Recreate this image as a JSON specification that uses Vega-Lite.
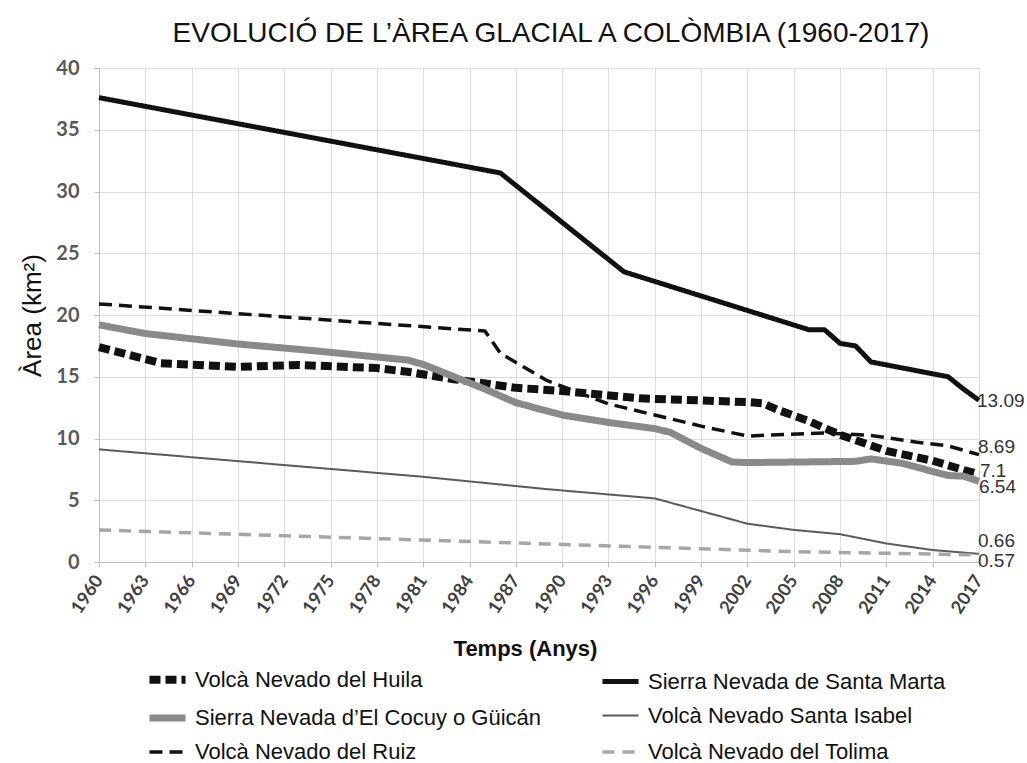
{
  "$schema": "https://vega.github.io/schema/vega-lite/v6.json",
  "width": 880,
  "height": 494,
  "autosize": {"type": "none"},
  "padding": {"left": 99, "top": 68, "right": 48, "bottom": 201},
  "background": "white",
  "title": {"text": "EVOLUCIÓ DE L’ÀREA GLACIAL A COLÒMBIA (1960-2017)", "font": "Liberation Sans", "fontSize": 28, "fontWeight": "normal", "color": "#111111", "offset": 10, "dx": 12},
  "config": {"view": {"stroke": null}},
  "data": {"values": [
    {"s": "Volcà Nevado del Huila", "year": 1960, "area": 17.4},
    {"s": "Volcà Nevado del Huila", "year": 1964, "area": 16.1},
    {"s": "Volcà Nevado del Huila", "year": 1969, "area": 15.8},
    {"s": "Volcà Nevado del Huila", "year": 1973, "area": 15.95},
    {"s": "Volcà Nevado del Huila", "year": 1978, "area": 15.7},
    {"s": "Volcà Nevado del Huila", "year": 1980, "area": 15.4},
    {"s": "Volcà Nevado del Huila", "year": 1983, "area": 14.8},
    {"s": "Volcà Nevado del Huila", "year": 1987, "area": 14.1},
    {"s": "Volcà Nevado del Huila", "year": 1990, "area": 13.85},
    {"s": "Volcà Nevado del Huila", "year": 1995, "area": 13.25},
    {"s": "Volcà Nevado del Huila", "year": 2002, "area": 12.95},
    {"s": "Volcà Nevado del Huila", "year": 2003, "area": 12.85},
    {"s": "Volcà Nevado del Huila", "year": 2004, "area": 12.3},
    {"s": "Volcà Nevado del Huila", "year": 2006, "area": 11.4},
    {"s": "Volcà Nevado del Huila", "year": 2008, "area": 10.3},
    {"s": "Volcà Nevado del Huila", "year": 2011, "area": 9.0},
    {"s": "Volcà Nevado del Huila", "year": 2014, "area": 8.2},
    {"s": "Volcà Nevado del Huila", "year": 2016, "area": 7.45},
    {"s": "Volcà Nevado del Huila", "year": 2017, "area": 7.1},
    {"s": "Sierra Nevada de Santa Marta", "year": 1960, "area": 37.6},
    {"s": "Sierra Nevada de Santa Marta", "year": 1986, "area": 31.5},
    {"s": "Sierra Nevada de Santa Marta", "year": 1994, "area": 23.5},
    {"s": "Sierra Nevada de Santa Marta", "year": 2006, "area": 18.8},
    {"s": "Sierra Nevada de Santa Marta", "year": 2007, "area": 18.8},
    {"s": "Sierra Nevada de Santa Marta", "year": 2008, "area": 17.7},
    {"s": "Sierra Nevada de Santa Marta", "year": 2009, "area": 17.5},
    {"s": "Sierra Nevada de Santa Marta", "year": 2010, "area": 16.2},
    {"s": "Sierra Nevada de Santa Marta", "year": 2015, "area": 15.0},
    {"s": "Sierra Nevada de Santa Marta", "year": 2016, "area": 14.0},
    {"s": "Sierra Nevada de Santa Marta", "year": 2017, "area": 13.09},
    {"s": "Sierra Nevada d’El Cocuy o Güicán", "year": 1960, "area": 19.2},
    {"s": "Sierra Nevada d’El Cocuy o Güicán", "year": 1963, "area": 18.5},
    {"s": "Sierra Nevada d’El Cocuy o Güicán", "year": 1969, "area": 17.65},
    {"s": "Sierra Nevada d’El Cocuy o Güicán", "year": 1974, "area": 17.1},
    {"s": "Sierra Nevada d’El Cocuy o Güicán", "year": 1980, "area": 16.35},
    {"s": "Sierra Nevada d’El Cocuy o Güicán", "year": 1981, "area": 16.0},
    {"s": "Sierra Nevada d’El Cocuy o Güicán", "year": 1985, "area": 14.0},
    {"s": "Sierra Nevada d’El Cocuy o Güicán", "year": 1987, "area": 12.9},
    {"s": "Sierra Nevada d’El Cocuy o Güicán", "year": 1990, "area": 11.9},
    {"s": "Sierra Nevada d’El Cocuy o Güicán", "year": 1993, "area": 11.3},
    {"s": "Sierra Nevada d’El Cocuy o Güicán", "year": 1996, "area": 10.8},
    {"s": "Sierra Nevada d’El Cocuy o Güicán", "year": 1997, "area": 10.5},
    {"s": "Sierra Nevada d’El Cocuy o Güicán", "year": 1999, "area": 9.2},
    {"s": "Sierra Nevada d’El Cocuy o Güicán", "year": 2001, "area": 8.1},
    {"s": "Sierra Nevada d’El Cocuy o Güicán", "year": 2002, "area": 8.05},
    {"s": "Sierra Nevada d’El Cocuy o Güicán", "year": 2009, "area": 8.15},
    {"s": "Sierra Nevada d’El Cocuy o Güicán", "year": 2010, "area": 8.35},
    {"s": "Sierra Nevada d’El Cocuy o Güicán", "year": 2012, "area": 8.0},
    {"s": "Sierra Nevada d’El Cocuy o Güicán", "year": 2015, "area": 7.0},
    {"s": "Sierra Nevada d’El Cocuy o Güicán", "year": 2016, "area": 6.95},
    {"s": "Sierra Nevada d’El Cocuy o Güicán", "year": 2017, "area": 6.54},
    {"s": "Volcà Nevado Santa Isabel", "year": 1960, "area": 9.12},
    {"s": "Volcà Nevado Santa Isabel", "year": 1972, "area": 7.85},
    {"s": "Volcà Nevado Santa Isabel", "year": 1981, "area": 6.9},
    {"s": "Volcà Nevado Santa Isabel", "year": 1989, "area": 5.9},
    {"s": "Volcà Nevado Santa Isabel", "year": 1996, "area": 5.15},
    {"s": "Volcà Nevado Santa Isabel", "year": 2002, "area": 3.1},
    {"s": "Volcà Nevado Santa Isabel", "year": 2005, "area": 2.6},
    {"s": "Volcà Nevado Santa Isabel", "year": 2008, "area": 2.25},
    {"s": "Volcà Nevado Santa Isabel", "year": 2011, "area": 1.5},
    {"s": "Volcà Nevado Santa Isabel", "year": 2014, "area": 0.97},
    {"s": "Volcà Nevado Santa Isabel", "year": 2017, "area": 0.66},
    {"s": "Volcà Nevado del Ruiz", "year": 1960, "area": 20.9},
    {"s": "Volcà Nevado del Ruiz", "year": 1985, "area": 18.7},
    {"s": "Volcà Nevado del Ruiz", "year": 1986, "area": 16.9},
    {"s": "Volcà Nevado del Ruiz", "year": 1989, "area": 14.7},
    {"s": "Volcà Nevado del Ruiz", "year": 1993, "area": 12.8},
    {"s": "Volcà Nevado del Ruiz", "year": 1996, "area": 11.9},
    {"s": "Volcà Nevado del Ruiz", "year": 1999, "area": 11.0},
    {"s": "Volcà Nevado del Ruiz", "year": 2002, "area": 10.2},
    {"s": "Volcà Nevado del Ruiz", "year": 2007, "area": 10.45},
    {"s": "Volcà Nevado del Ruiz", "year": 2010, "area": 10.25},
    {"s": "Volcà Nevado del Ruiz", "year": 2013, "area": 9.7},
    {"s": "Volcà Nevado del Ruiz", "year": 2015, "area": 9.4},
    {"s": "Volcà Nevado del Ruiz", "year": 2017, "area": 8.69},
    {"s": "Volcà Nevado del Tolima", "year": 1960, "area": 2.6},
    {"s": "Volcà Nevado del Tolima", "year": 1989, "area": 1.46},
    {"s": "Volcà Nevado del Tolima", "year": 2005, "area": 0.84},
    {"s": "Volcà Nevado del Tolima", "year": 2017, "area": 0.57}
  ]},
  "layer": [
    {
      "mark": {"type": "line", "strokeCap": "butt", "strokeJoin": "round"},
      "encoding": {
        "x": {"field": "year", "type": "quantitative",
          "scale": {"domain": [1960, 2017], "nice": false, "zero": false},
          "axis": {"values": [1960,1963,1966,1969,1972,1975,1978,1981,1984,1987,1990,1993,1996,1999,2002,2005,2008,2011,2014,2017],
            "format": "d", "labelAngle": -56, "labelFont": "Lato", "labelFontSize": 18, "labelFontWeight": "bold", "labelColor": "#404040", "labelPadding": 10,
            "labelOverlap": false, "labelFlush": false,
            "tickSize": 5, "tickColor": "#bfbfbf", "domainColor": "#bfbfbf", "gridColor": "#dcdcdc",
            "title": "Temps (Anys)", "titleFont": "Liberation Sans", "titleFontSize": 22, "titleFontWeight": "bold", "titleColor": "#111111",
            "titleX": 426, "titleY": 76, "titleBaseline": "top", "titleAnchor": "middle", "titleAlign": "center"}},
        "y": {"field": "area", "type": "quantitative",
          "scale": {"domain": [0, 40], "nice": false},
          "axis": {"values": [0,5,10,15,20,25,30,35,40], "labelFont": "Lato", "labelFontSize": 20, "labelFontWeight": "bold", "labelColor": "#595959", "labelPadding": 15,
            "tickSize": 5, "tickColor": "#bfbfbf", "domainColor": "#bfbfbf", "gridColor": "#dcdcdc",
            "title": "Àrea (km²)", "titleFont": "Liberation Sans", "titleFontSize": 26, "titleFontWeight": "normal", "titleColor": "#111111", "titlePadding": 10}},
        "color": {"field": "s", "type": "nominal",
          "scale": {"domain": ["Volcà Nevado del Huila", "Sierra Nevada d’El Cocuy o Güicán", "Volcà Nevado del Ruiz", "Sierra Nevada de Santa Marta", "Volcà Nevado Santa Isabel", "Volcà Nevado del Tolima"],
            "range": ["#111111", "#8a8a8a", "#111111", "#111111", "#5a5a5a", "#a6a6a6"]},
          "legend": {"title": null, "orient": "none", "legendX": 46, "legendY": 589, "columns": 2, "columnPadding": 50, "rowPadding": 0,
            "symbolType": "stroke", "symbolSize": 1300, "labelFont": "Liberation Sans", "labelFontSize": 22, "labelColor": "#111111", "labelOffset": 5, "labelLimit": 600}},
        "strokeDash": {"field": "s", "type": "nominal",
          "scale": {"domain": ["Volcà Nevado del Huila", "Sierra Nevada d’El Cocuy o Güicán", "Volcà Nevado del Ruiz", "Sierra Nevada de Santa Marta", "Volcà Nevado Santa Isabel", "Volcà Nevado del Tolima"],
            "range": [[11, 5], [1, 0], [13, 7], [1, 0], [1, 0], [12, 8]]}},
        "strokeWidth": {"field": "s", "type": "nominal",
          "scale": {"type": "ordinal", "domain": ["Volcà Nevado del Huila", "Sierra Nevada d’El Cocuy o Güicán", "Volcà Nevado del Ruiz", "Sierra Nevada de Santa Marta", "Volcà Nevado Santa Isabel", "Volcà Nevado del Tolima"],
            "range": [8, 7, 3.5, 5, 2, 3.5]}}
      }
    },
    {
      "transform": [{"filter": {"and": [{"field": "year", "equal": 2017}, {"field": "s", "equal": "Sierra Nevada de Santa Marta"}]}}],
      "mark": {"type": "text", "align": "left", "baseline": "middle", "dx": -2, "dy": 1, "font": "Liberation Sans", "fontSize": 19, "color": "#333333"},
      "encoding": {"x": {"field": "year", "type": "quantitative"}, "y": {"field": "area", "type": "quantitative"}, "text": {"field": "area", "type": "nominal"}}
    },
    {
      "transform": [{"filter": {"and": [{"field": "year", "equal": 2017}, {"field": "s", "equal": "Volcà Nevado del Ruiz"}]}}],
      "mark": {"type": "text", "align": "left", "baseline": "middle", "dx": -1, "dy": -8, "font": "Liberation Sans", "fontSize": 19, "color": "#333333"},
      "encoding": {"x": {"field": "year", "type": "quantitative"}, "y": {"field": "area", "type": "quantitative"}, "text": {"field": "area", "type": "nominal"}}
    },
    {
      "transform": [{"filter": {"and": [{"field": "year", "equal": 2017}, {"field": "s", "equal": "Volcà Nevado del Huila"}]}}],
      "mark": {"type": "text", "align": "left", "baseline": "middle", "dx": 1, "dy": -3, "font": "Liberation Sans", "fontSize": 19, "color": "#333333"},
      "encoding": {"x": {"field": "year", "type": "quantitative"}, "y": {"field": "area", "type": "quantitative"}, "text": {"field": "area", "type": "nominal"}}
    },
    {
      "transform": [{"filter": {"and": [{"field": "year", "equal": 2017}, {"field": "s", "equal": "Sierra Nevada d’El Cocuy o Güicán"}]}}],
      "mark": {"type": "text", "align": "left", "baseline": "middle", "dx": 0, "dy": 6, "font": "Liberation Sans", "fontSize": 19, "color": "#333333"},
      "encoding": {"x": {"field": "year", "type": "quantitative"}, "y": {"field": "area", "type": "quantitative"}, "text": {"field": "area", "type": "nominal"}}
    },
    {
      "transform": [{"filter": {"and": [{"field": "year", "equal": 2017}, {"field": "s", "equal": "Volcà Nevado Santa Isabel"}]}}],
      "mark": {"type": "text", "align": "left", "baseline": "middle", "dx": -1, "dy": -13, "font": "Liberation Sans", "fontSize": 19, "color": "#333333"},
      "encoding": {"x": {"field": "year", "type": "quantitative"}, "y": {"field": "area", "type": "quantitative"}, "text": {"field": "area", "type": "nominal"}}
    },
    {
      "transform": [{"filter": {"and": [{"field": "year", "equal": 2017}, {"field": "s", "equal": "Volcà Nevado del Tolima"}]}}],
      "mark": {"type": "text", "align": "left", "baseline": "middle", "dx": -1, "dy": 6, "font": "Liberation Sans", "fontSize": 19, "color": "#333333"},
      "encoding": {"x": {"field": "year", "type": "quantitative"}, "y": {"field": "area", "type": "quantitative"}, "text": {"field": "area", "type": "nominal"}}
    }
  ]
}
